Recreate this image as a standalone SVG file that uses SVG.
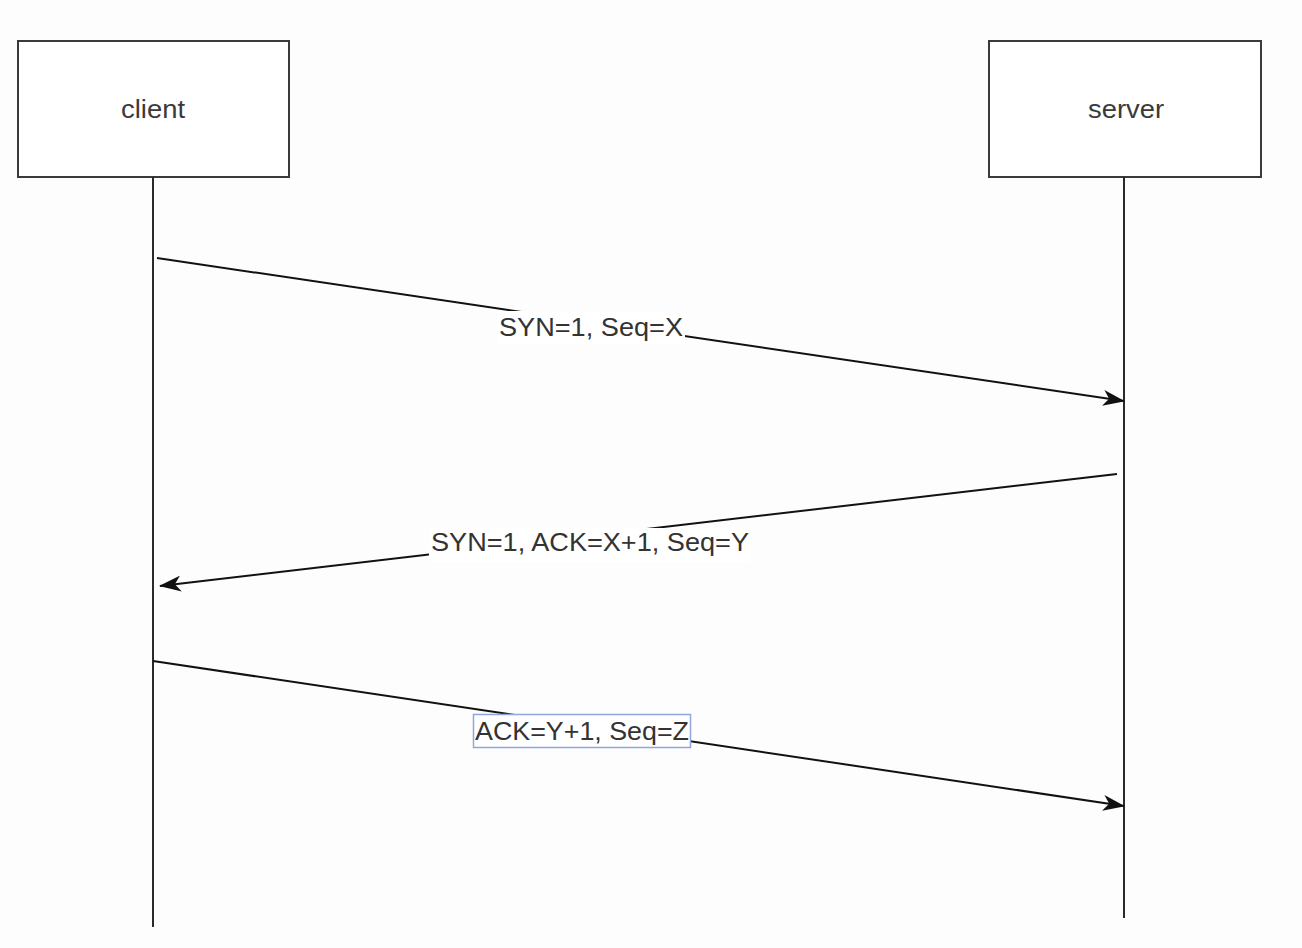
<svg xmlns="http://www.w3.org/2000/svg" width="1302" height="948" viewBox="0 0 1302 948">
  <defs>
    <style>
      .box { fill: #ffffff; stroke: #3a3a3a; stroke-width: 2; }
      .life { stroke: #2a2a2a; stroke-width: 2; fill: none; }
      .msg { stroke: #111111; stroke-width: 2; fill: none; }
      .node-text { font-family: "Liberation Sans", Arial, sans-serif; font-size: 26px; fill: #3a3a3a; text-anchor: middle; }
      .lbl-bg { fill: #ffffff; stroke: none; }
      .lbl { font-family: "Liberation Sans", Arial, sans-serif; font-size: 26px; fill: #333333; text-anchor: middle; }
      .sel { fill: #ffffff; stroke: #8fa8dc; stroke-width: 1.5; }
    </style>
    <marker id="arrow" viewBox="0 0 22 16" refX="21" refY="8" markerWidth="22" markerHeight="16" markerUnits="userSpaceOnUse" orient="auto">
      <path d="M0,0 L22,8 L0,16 L6,8 Z" fill="#111111"/>
    </marker>
  </defs>
  <rect x="0" y="0" width="1302" height="948" fill="#fdfdfd"/>

  <g id="client">
    <rect class="box" x="18" y="41" width="271" height="136"/>
    <text class="node-text" x="153" y="118" textLength="64" lengthAdjust="spacingAndGlyphs">client</text>
    <line class="life" x1="153" y1="177" x2="153" y2="927"/>
  </g>

  <g id="server">
    <rect class="box" x="989" y="41" width="272" height="136"/>
    <text class="node-text" x="1126" y="118" textLength="76" lengthAdjust="spacingAndGlyphs">server</text>
    <line class="life" x1="1124" y1="177" x2="1124" y2="918"/>
  </g>

  <g id="connectors">
    <line class="msg" x1="157" y1="258" x2="1124" y2="401" marker-end="url(#arrow)"/>
    <rect class="lbl-bg" x="497" y="311" width="188" height="34"/>
    <text class="lbl" x="591" y="336" textLength="184" lengthAdjust="spacingAndGlyphs">SYN=1, Seq=X</text>

    <line class="msg" x1="1117" y1="474" x2="160" y2="586" marker-end="url(#arrow)"/>
    <rect class="lbl-bg" x="429" y="528" width="322" height="34"/>
    <text class="lbl" x="590" y="551" textLength="318" lengthAdjust="spacingAndGlyphs">SYN=1, ACK=X+1, Seq=Y</text>

    <line class="msg" x1="153" y1="661" x2="1124" y2="806" marker-end="url(#arrow)"/>
    <rect class="sel" x="473.5" y="714.5" width="217" height="33"/>
    <text class="lbl" x="582" y="740" textLength="214" lengthAdjust="spacingAndGlyphs">ACK=Y+1, Seq=Z</text>
  </g>
</svg>
